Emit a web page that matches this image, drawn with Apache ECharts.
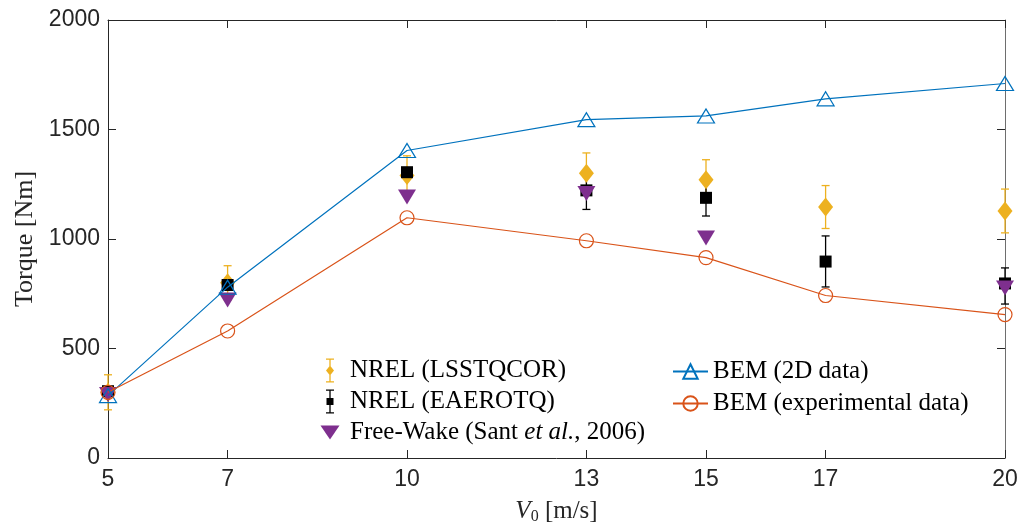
<!DOCTYPE html>
<html>
<head>
<meta charset="utf-8">
<script src="https://cdn.jsdelivr.net/npm/echarts@6/dist/echarts.min.js"></script>
<style>
  html, body { margin: 0; padding: 0; background: #fff; }
  #chart { width: 1019px; height: 526px; }
</style>
</head>
<body>
<div id="chart"></div>
<script>
// wind speed V0 [m/s]
var speeds = [5, 7, 10, 13, 15, 17, 20];
var yTicks = [0, 500, 1000, 1500, 2000];

// NREL measurements (mean and error half-width)
var lsstqcor = [300, 800, 1290, 1300, 1270, 1146, 1128];
var lsstqcorErr = [80, 78, 90, 93, 92, 98, 100];
var eaerotq = [305, 790, 1305, 1222, 1188, 897, 797];
var eaerotqLow = [290, 775, 1290, 1135, 1105, 781, 703];
var eaerotqHigh = [320, 805, 1320, 1306, 1274, 1014, 868];

// Free-Wake (Sant et al., 2006), no value at 17 m/s
var freeWake = [290, 722, 1192, 1208, 1004, null, 776];

// BEM results
var bem2d = [285, 780, 1404, 1545, 1562, 1640, 1710];
var bemExp = [300, 580, 1097, 992, 915, 742, 655];

var cYellow = '#EDB120', cBlack = '#000000', cPurple = '#7E2F8E',
    cBlue = '#0072BD', cOrange = '#D95319';

var myChart = echarts.init(document.getElementById('chart'));

function pairs(vals) {
    var out = [];
    for (var i = 0; i < speeds.length; i++) {
        if (vals[i] != null) out.push([speeds[i], vals[i]]);
    }
    return out;
}

function errorBar(params, api) {
    var x = api.value(0);
    var lo = api.coord([x, api.value(1)]);
    var hi = api.coord([x, api.value(2)]);
    var hw = 4;
    var st = { stroke: api.visual('color'), lineWidth: 1.3 };
    return {
        type: 'group',
        children: [
            { type: 'line', shape: { x1: lo[0], y1: lo[1], x2: hi[0], y2: hi[1] }, style: st },
            { type: 'line', shape: { x1: hi[0] - hw, y1: hi[1], x2: hi[0] + hw, y2: hi[1] }, style: st },
            { type: 'line', shape: { x1: lo[0] - hw, y1: lo[1], x2: lo[0] + hw, y2: lo[1] }, style: st }
        ]
    };
}

var errLss = [], errEae = [];
for (var i = 0; i < speeds.length; i++) {
    errLss.push([speeds[i], lsstqcor[i] - lsstqcorErr[i], lsstqcor[i] + lsstqcorErr[i]]);
    errEae.push([speeds[i], eaerotqLow[i], eaerotqHigh[i]]);
}

var serif = 'Liberation Serif';
var iconLss = 'path://M0 12M20 12M6 0h8v1.3h-8zM9.35 0h1.3v24h-1.3zM6 22.7h8v1.3h-8zM10 7L14 12L10 17L6 12z';
var iconEae = 'path://M0 12M20 12M6 0h8v1.3h-8zM9.35 0h1.3v24h-1.3zM6 22.7h8v1.3h-8zM6.5 8.5h7v7h-7z';
var iconFw = 'path://M0 0M20 24M0.5 5H19.5L10 19z';

var tickStyle = { inside: true, length: 8, lineStyle: { color: '#262626' } };

var option = {
    animation: false,
    grid: { left: 108, right: 14, top: 20, bottom: 68, outerBoundsMode: 'none', containLabel: false },
    legend: [
        {
            orient: 'vertical',
            left: 315, top: 353,
            itemWidth: 20, itemHeight: 24, itemGap: 6,
            selectedMode: false,
            textStyle: { fontFamily: serif, fontSize: 25, color: '#000', padding: [0, 0, 0, 5],
                rich: {
                    n: { fontFamily: serif, fontSize: 25, color: '#000' },
                    i: { fontFamily: serif, fontSize: 25, fontStyle: 'italic', color: '#000' }
                } },
            formatter: function (name) {
                if (name.indexOf('Free-Wake') === 0) {
                    return '{n|Free-Wake (Sant }{i|et al.}{n|, 2006)}';
                }
                return name;
            },
            data: [
                { name: 'NREL (LSSTQCOR)', icon: iconLss },
                { name: 'NREL (EAEROTQ)', icon: iconEae },
                { name: 'Free-Wake (Sant et al., 2006)', icon: iconFw }
            ]
        },
        {
            orient: 'vertical',
            left: 667, top: 354,
            itemWidth: 35, itemHeight: 18, itemGap: 7,
            selectedMode: false,
            textStyle: { fontFamily: serif, fontSize: 25, color: '#000' },
            data: ['BEM (2D data)', 'BEM (experimental data)']
        }
    ],
    xAxis: [
        {
            type: 'value', min: 5, max: 20,
            name: '{i|V}{s|0} [m/s]',
            nameLocation: 'middle', nameGap: 39,
            nameTextStyle: { fontFamily: serif, fontSize: 25, color: '#262626',
                rich: {
                    i: { fontFamily: serif, fontSize: 25, fontStyle: 'italic', color: '#262626' },
                    s: { fontFamily: serif, fontSize: 16, color: '#262626', verticalAlign: 'bottom', padding: [12, 0, 0, 0] }
                } },
            axisLine: { onZero: false, lineStyle: { color: '#262626' } },
            axisTick: Object.assign({ customValues: speeds }, tickStyle),
            axisLabel: { customValues: speeds, fontFamily: 'Liberation Sans', fontSize: 23, color: '#262626', margin: 10 },
            splitLine: { show: false }
        },
        {
            type: 'value', min: 5, max: 20, position: 'top',
            axisLine: { onZero: false, lineStyle: { color: '#262626' } },
            axisTick: Object.assign({ customValues: speeds }, tickStyle),
            axisLabel: { show: false },
            splitLine: { show: false }
        }
    ],
    yAxis: [
        {
            type: 'value', min: 0, max: 2000, interval: 500,
            name: 'Torque [Nm]',
            nameLocation: 'middle', nameGap: 63,
            nameTextStyle: { fontFamily: serif, fontSize: 26, color: '#262626' },
            axisLine: { show: true, onZero: false, lineStyle: { color: '#262626' } },
            axisTick: tickStyle,
            axisLabel: { fontFamily: 'Liberation Sans', fontSize: 23, color: '#262626', margin: 8,
                formatter: function (v) { return String(v); } },
            splitLine: { show: false }
        },
        {
            type: 'value', min: 0, max: 2000, interval: 500, position: 'right',
            axisLine: { show: true, onZero: false, lineStyle: { color: '#6e6e6e' } },
            axisTick: tickStyle,
            axisLabel: { show: false },
            splitLine: { show: false }
        }
    ],
    series: [
        {
            name: 'NREL (LSSTQCOR)', type: 'custom', renderItem: errorBar,
            itemStyle: { color: cYellow }, data: errLss, z: 2
        },
        {
            name: 'NREL (LSSTQCOR)', type: 'scatter', symbol: 'diamond', symbolSize: [15, 19],
            itemStyle: { color: cYellow, opacity: 1 }, data: pairs(lsstqcor), z: 2
        },
        {
            name: 'NREL (EAEROTQ)', type: 'custom', renderItem: errorBar,
            itemStyle: { color: cBlack }, data: errEae, z: 2
        },
        {
            name: 'NREL (EAEROTQ)', type: 'scatter', symbol: 'rect', symbolSize: 12,
            itemStyle: { color: cBlack, opacity: 1 }, data: pairs(eaerotq), z: 2
        },
        {
            name: 'Free-Wake (Sant et al., 2006)', type: 'scatter', symbol: 'triangle',
            symbolRotate: 180, symbolSize: [18, 15],
            itemStyle: { color: cPurple, opacity: 1 }, data: pairs(freeWake), z: 3
        },
        {
            name: 'BEM (2D data)', type: 'line', symbol: 'triangle', symbolSize: [17, 14],
            lineStyle: { color: cBlue, width: 1.2 },
            itemStyle: { color: 'rgba(255,255,255,0)', borderColor: cBlue, borderWidth: 1.2 },
            data: pairs(bem2d), z: 4
        },
        {
            name: 'BEM (experimental data)', type: 'line', symbol: 'circle', symbolSize: 14,
            lineStyle: { color: cOrange, width: 1.2 },
            itemStyle: { color: 'rgba(255,255,255,0)', borderColor: cOrange, borderWidth: 1.2 },
            data: pairs(bemExp), z: 4
        }
    ]
};

myChart.setOption(option);
</script>
</body>
</html>
